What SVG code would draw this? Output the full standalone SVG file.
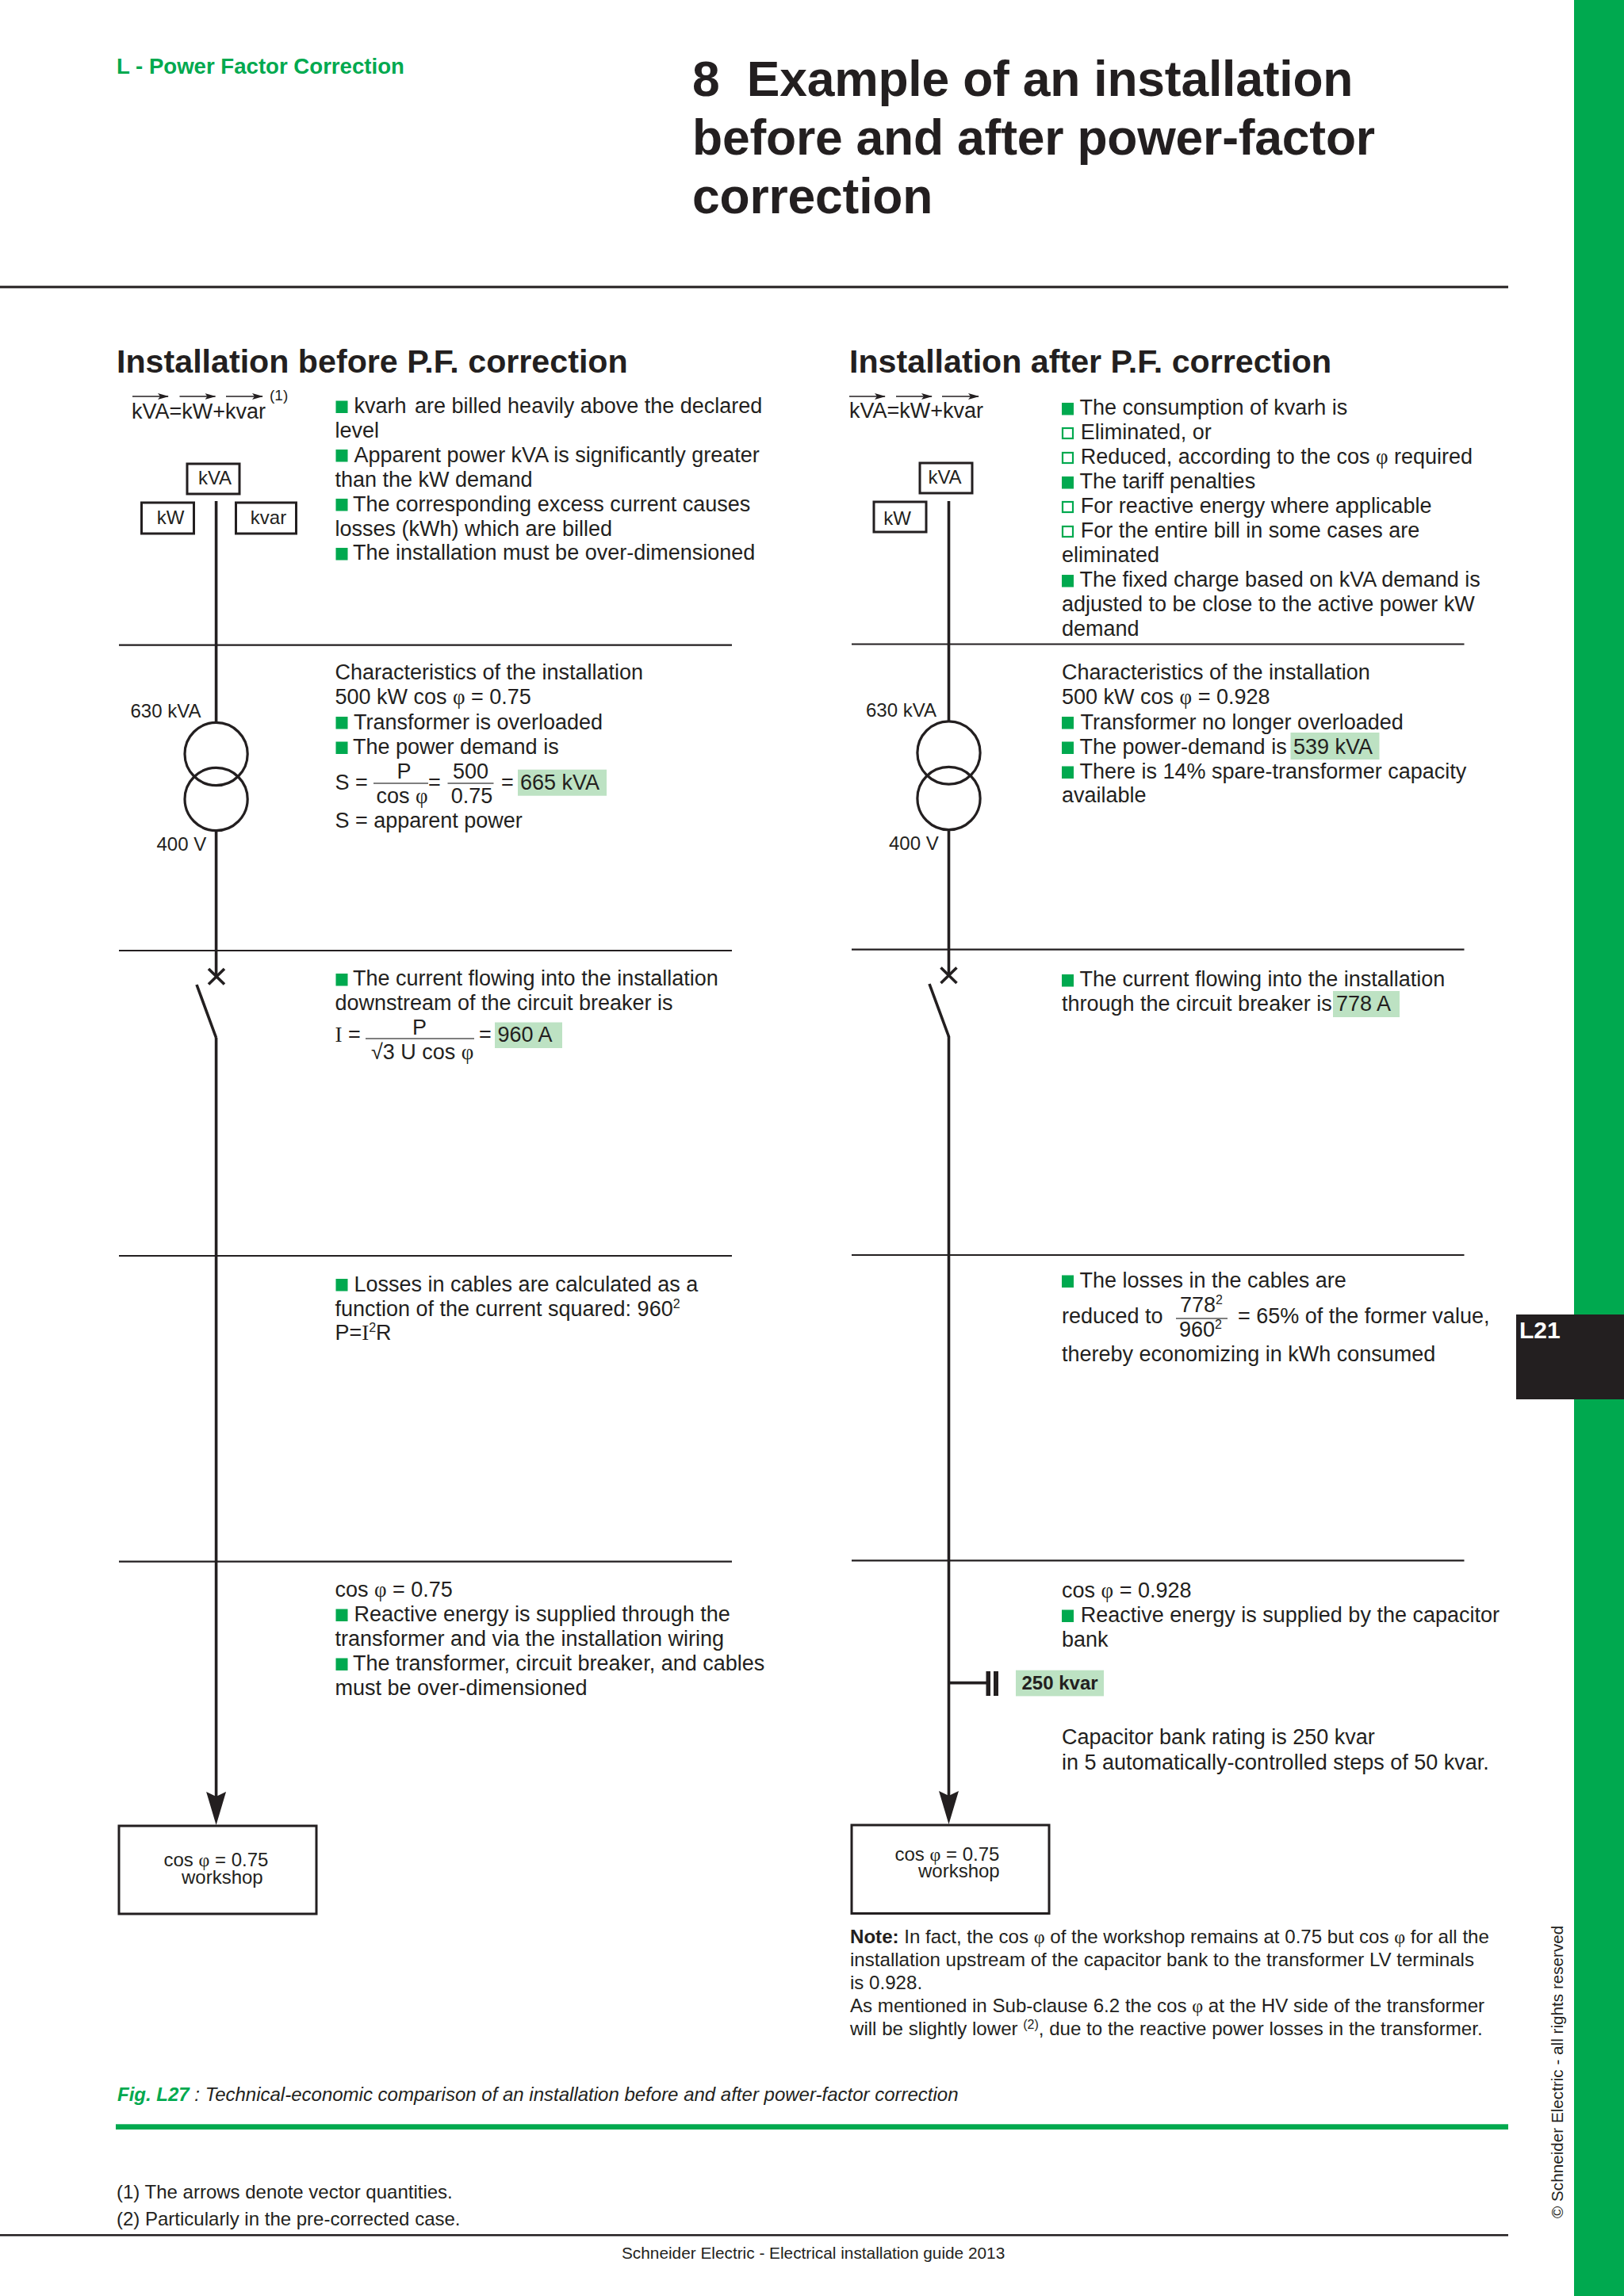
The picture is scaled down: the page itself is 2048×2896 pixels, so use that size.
<svg xmlns="http://www.w3.org/2000/svg" width="2048" height="2896" viewBox="0 0 2048 2896">
<style>
text{font-family:"Liberation Sans",Arial,sans-serif;fill:#231f20}
.t{font-size:27px}
.s{font-size:24px}
.n{font-size:24px}
.nt{font-size:24.1px}
.f{font-size:20.8px}
.h{font-size:41.2px;font-weight:bold}
.ti{font-size:62.4px;font-weight:bold;letter-spacing:-0.2px}
.p{font-family:"Liberation Serif",serif}
.mid{text-anchor:middle}
.sup{font-size:16px}
.hl{fill:#bde2c3}
.b{fill:#00a94f}
.o{fill:#fff;stroke:#00a94f;stroke-width:2.2}
.rule{stroke:#231f20;stroke-width:2.2;fill:none}
.wire{stroke:#231f20;stroke-width:3.6;fill:none}
.box{stroke:#231f20;stroke-width:3;fill:#fff}
.frac{stroke:#555;stroke-width:1.4}
.vec{stroke:#231f20;stroke-width:1.4;marker-end:url(#va)}
</style>
<defs>
<marker id="ah" markerUnits="userSpaceOnUse" viewBox="0 0 42 25" markerWidth="42" markerHeight="25" refX="10" refY="12.5" orient="auto"><path d="M0,0 L42,12.5 L0,25 L6,12.5 Z" fill="#231f20"/></marker>
<marker id="va" markerUnits="userSpaceOnUse" viewBox="0 0 14 8" markerWidth="14" markerHeight="8" refX="13" refY="4" orient="auto"><path d="M0,0 L14,4 L0,8 L3,4 Z" fill="#231f20"/></marker>
</defs>
<rect width="2048" height="2896" fill="#fff"/>

<g id="page">
<rect x="1985" y="0" width="63" height="2896" fill="#00a94f"/>
<rect x="1912" y="1658" width="136" height="107" fill="#231f20"/>
<text x="1916" y="1688" font-size="30" font-weight="bold" style="fill:#fff">L21</text>
<text transform="translate(1970.5 2798) rotate(-90)" font-size="20.7">© Schneider Electric - all rights reserved</text>
<text x="147" y="93.3" font-size="27.6" font-weight="bold" style="fill:#00a94f">L - Power Factor Correction</text>
<text x="873" y="120.7" class="ti">8&#160; Example of an installation</text>
<text x="873" y="194.7" class="ti">before and after power-factor</text>
<text x="873" y="268.7" class="ti">correction</text>
<line x1="0" y1="362" x2="1902" y2="362" stroke="#231f20" stroke-width="3"/>
<text x="147" y="470" class="h">Installation before P.F. correction</text>
<text x="1071" y="470" class="h">Installation after P.F. correction</text>
</g>

<g id="rules">
<path class="rule" d="M150,813.7H923M150,1199H923M150,1584H923M150,1969.7H923"/>
<path class="rule" d="M1074,812.5H1846.5M1074,1197.6H1846.5M1074,1583H1846.5M1074,1968.4H1846.5"/>
</g>

<g id="connectors">
<line class="wire" x1="272.6" y1="632" x2="272.6" y2="911"/>
<line class="wire" x1="272.6" y1="1047" x2="272.6" y2="1232"/>
<line class="wire" x1="272.6" y1="1309" x2="272.6" y2="2270" marker-end="url(#ah)"/>
<line class="wire" x1="1196.5" y1="632" x2="1196.5" y2="910"/>
<line class="wire" x1="1196.5" y1="1046" x2="1196.5" y2="1230"/>
<line class="wire" x1="1196.5" y1="1307" x2="1196.5" y2="2269" marker-end="url(#ah)"/>
<line class="wire" x1="1196.5" y1="2122.6" x2="1244" y2="2122.6"/>
</g>

<g id="vector-left">
<line class="vec" x1="167" y1="500" x2="212" y2="500"/>
<line class="vec" x1="226.5" y1="500" x2="271.5" y2="500"/>
<line class="vec" x1="285" y1="500" x2="331" y2="500"/>
<text x="166" y="528" class="t">kVA=kW+kvar</text>
<text x="340" y="504.5" font-size="19">(1)</text>
</g>
<g id="vector-right">
<line class="vec" x1="1071" y1="500" x2="1116" y2="500"/>
<line class="vec" x1="1130" y1="500" x2="1175" y2="500"/>
<line class="vec" x1="1188" y1="500" x2="1234" y2="500"/>
<text x="1071" y="526.7" class="t">kVA=kW+kvar</text>
</g>

<g id="node-kva-left"><rect class="box" x="236" y="585" width="66" height="38"/><text x="271" y="611" class="s mid">kVA</text></g>
<g id="node-kw-left"><rect class="box" x="178.500" y="634" width="66" height="39"/><text x="215" y="661" class="s mid">kW</text></g>
<g id="node-kvar-left"><rect class="box" x="297.500" y="634" width="76" height="39"/><text x="338.500" y="661" class="s mid">kvar</text></g>
<g id="node-kva-right"><rect class="box" x="1160" y="584" width="66" height="38"/><text x="1191.500" y="609.500" class="s mid">kVA</text></g>
<g id="node-kw-right"><rect class="box" x="1102" y="633" width="66" height="38"/><text x="1131.700" y="662" class="s mid">kW</text></g>

<g id="transformer-left">
<circle cx="272.6" cy="951" r="39.6" fill="none" stroke="#231f20" stroke-width="3.2"/>
<circle cx="272.6" cy="1008" r="39.6" fill="none" stroke="#231f20" stroke-width="3.2"/>
<text x="164.500" y="905" class="s">630 kVA</text>
<text x="197.500" y="1073" class="s">400 V</text>
</g>
<g id="transformer-right">
<circle cx="1196.5" cy="949.5" r="39.6" fill="none" stroke="#231f20" stroke-width="3.2"/>
<circle cx="1196.5" cy="1007" r="39.6" fill="none" stroke="#231f20" stroke-width="3.2"/>
<text x="1092" y="903.500" class="s">630 kVA</text>
<text x="1121" y="1072" class="s">400 V</text>
</g>

<g id="breaker-left" class="wire">
<path d="M263,1222L283,1241.500M283,1222L263,1241.500M248,1242L272.6,1309"/>
</g>
<g id="breaker-right" class="wire">
<path d="M1186.500,1220.500L1206.500,1240M1206.500,1220.500L1186.500,1240M1172,1241L1196.500,1307.500"/>
</g>

<g id="capacitor">
<rect x="1243.500" y="2108" width="5.500" height="31" fill="#231f20"/>
<rect x="1253" y="2108" width="6" height="31" fill="#231f20"/>
<rect class="hl" x="1281" y="2106.700" width="111" height="32.700"/>
<text x="1288.500" y="2130.800" font-size="24" font-weight="bold">250 kvar</text>
</g>

<g id="load-left">
<rect class="box" x="150" y="2303" width="249" height="111"/>
<text x="206.500" y="2354" class="n">cos <tspan class="p">φ</tspan> = 0.75</text>
<text x="229" y="2375.500" class="n">workshop</text>
</g>
<g id="load-right">
<rect class="box" x="1074" y="2302" width="249" height="111.500"/>
<text x="1128.500" y="2346.500" class="n">cos <tspan class="p">φ</tspan> = 0.75</text>
<text x="1158" y="2368" class="n">workshop</text>
</g>

<g id="text-left-1">
<rect class="b" x="423.500" y="505.500" width="15" height="15.500"/><text x="446.500" y="520.600" class="t">kvarh <tspan dx="3">are billed heavily above the declared</tspan></text>
<text x="422.400" y="551.600" class="t">level</text>
<rect class="b" x="423.500" y="567" width="15" height="15.500"/><text x="446.500" y="582.600" class="t">Apparent power kVA is significantly greater</text>
<text x="422.400" y="613.600" class="t">than the kW demand</text>
<rect class="b" x="423.500" y="629" width="15" height="15.500"/><text x="445" y="644.600" class="t">The corresponding excess current causes</text>
<text x="422.400" y="675.600" class="t">losses (kWh) which are billed</text>
<rect class="b" x="423.500" y="691" width="15" height="15.500"/><text x="445" y="706.400" class="t">The installation must be over-dimensioned</text>
</g>
<g id="text-left-2">
<text x="422.400" y="857" class="t">Characteristics of the installation</text>
<text x="422.400" y="888" class="t">500 kW cos <tspan class="p">φ</tspan> = 0.75</text>
<rect class="b" x="423.500" y="904" width="15" height="15.500"/><text x="446" y="919.500" class="t">Transformer is overloaded</text>
<rect class="b" x="423.500" y="935.500" width="15" height="15.500"/><text x="445" y="951" class="t">The power demand is</text>
<text x="422.400" y="996" class="t">S =</text>
<text x="509.600" y="982" class="t mid">P</text>
<line class="frac" x1="471" y1="988" x2="540" y2="988"/>
<text x="474.500" y="1013" class="t">cos <tspan class="p">φ</tspan></text>
<text x="540" y="996" class="t">=</text>
<text x="593.500" y="982" class="t mid">500</text>
<line class="frac" x1="564.500" y1="988" x2="622.500" y2="988"/>
<text x="595" y="1013" class="t mid">0.75</text>
<text x="632" y="996" class="t">=</text>
<rect class="hl" x="653" y="970.700" width="112" height="33"/>
<text x="656" y="996" class="t">665 kVA</text>
<text x="422.400" y="1043.600" class="t">S = apparent power</text>
</g>
<g id="text-left-3">
<rect class="b" x="423.500" y="1228" width="15" height="15.500"/><text x="445" y="1243" class="t">The current flowing into the installation</text>
<text x="422.400" y="1274" class="t">downstream of the circuit breaker is</text>
<text x="422.400" y="1313.600" class="t"><tspan class="p">I</tspan> =</text>
<text x="529" y="1304.700" class="t mid">P</text>
<line class="frac" x1="461" y1="1310" x2="598" y2="1310"/>
<text x="468" y="1336" class="t">√3 U cos <tspan class="p">φ</tspan></text>
<text x="604" y="1313.600" class="t">=</text>
<rect class="hl" x="624" y="1289.500" width="85" height="32.500"/>
<text x="627.500" y="1313.600" class="t">960 A</text>
</g>
<g id="text-left-4">
<rect class="b" x="423.500" y="1613" width="15" height="15.500"/><text x="446.500" y="1628.700" class="t">Losses in cables are calculated as a</text>
<text x="422.400" y="1660" class="t">function of the current squared: 960<tspan class="sup" dy="-10">2</tspan></text>
<text x="422.400" y="1690" class="t">P=<tspan class="p">I</tspan><tspan class="sup" dy="-10">2</tspan><tspan dy="10">R</tspan></text>
</g>
<g id="text-left-5">
<text x="422.400" y="2014" class="t">cos <tspan class="p">φ</tspan> = 0.75</text>
<rect class="b" x="423.500" y="2029.500" width="15" height="15.500"/><text x="446.500" y="2045" class="t">Reactive energy is supplied through the</text>
<text x="422.400" y="2076" class="t">transformer and via the installation wiring</text>
<rect class="b" x="423.500" y="2091.500" width="15" height="15.500"/><text x="445" y="2106.700" class="t">The transformer, circuit breaker, and cables</text>
<text x="422.400" y="2138" class="t">must be over-dimensioned</text>
</g>

<g id="text-right-1">
<rect class="b" x="1339" y="508" width="15" height="15.500"/><text x="1361.500" y="522.800" class="t">The consumption of kvarh is</text>
<rect class="o" x="1340" y="540" width="13" height="13"/><text x="1362.700" y="554" class="t">Eliminated, or</text>
<rect class="o" x="1340" y="571" width="13" height="13"/><text x="1362.700" y="585" class="t">Reduced, according to the cos <tspan class="p">φ</tspan> required</text>
<rect class="b" x="1339" y="601" width="15" height="15.500"/><text x="1361.500" y="616" class="t">The tariff penalties</text>
<rect class="o" x="1340" y="633" width="13" height="13"/><text x="1362.700" y="647" class="t">For reactive energy where applicable</text>
<rect class="o" x="1340" y="664" width="13" height="13"/><text x="1362.700" y="678" class="t">For the entire bill in some cases are</text>
<text x="1339" y="709" class="t">eliminated</text>
<rect class="b" x="1339" y="725" width="15" height="15.500"/><text x="1361.500" y="740" class="t">The fixed charge based on kVA demand is</text>
<text x="1339" y="771" class="t">adjusted to be close to the active power kW</text>
<text x="1339" y="802" class="t">demand</text>
</g>
<g id="text-right-2">
<text x="1339" y="857" class="t">Characteristics of the installation</text>
<text x="1339" y="888" class="t">500 kW cos <tspan class="p">φ</tspan> = 0.928</text>
<rect class="b" x="1339" y="904" width="15" height="15.500"/><text x="1362.500" y="919.500" class="t">Transformer no longer overloaded</text>
<rect class="b" x="1339" y="935.500" width="15" height="15.500"/><text x="1361.500" y="951" class="t">The power-demand is</text>
<rect class="hl" x="1627.500" y="924" width="112" height="34"/>
<text x="1631" y="951" class="t">539 kVA</text>
<rect class="b" x="1339" y="966.500" width="15" height="15.500"/><text x="1361.500" y="982" class="t">There is 14% spare-transformer capacity</text>
<text x="1339" y="1012" class="t">available</text>
</g>
<g id="text-right-3">
<rect class="b" x="1339" y="1229" width="15" height="15.500"/><text x="1361.500" y="1244.400" class="t">The current flowing into the installation</text>
<text x="1339" y="1275" class="t">through the circuit breaker is</text>
<rect class="hl" x="1681" y="1250" width="84" height="33"/>
<text x="1685" y="1275" class="t">778 A</text>
</g>
<g id="text-right-4">
<rect class="b" x="1339" y="1608.500" width="15" height="15.500"/><text x="1361.500" y="1624" class="t">The losses in the cables are</text>
<text x="1339" y="1669" class="t">reduced to</text>
<text x="1488" y="1655" class="t">778<tspan class="sup" dy="-10">2</tspan></text>
<line class="frac" x1="1483" y1="1663" x2="1548" y2="1663"/>
<text x="1487" y="1686" class="t">960<tspan class="sup" dy="-10">2</tspan></text>
<text x="1561" y="1669" class="t">= 65% of the former value,</text>
<text x="1339" y="1717" class="t">thereby economizing in kWh consumed</text>
</g>
<g id="text-right-5">
<text x="1339" y="2014.500" class="t">cos <tspan class="p">φ</tspan> = 0.928</text>
<rect class="b" x="1339" y="2030.500" width="15" height="15.500"/><text x="1362.700" y="2046" class="t">Reactive energy is supplied by the capacitor</text>
<text x="1339" y="2076.500" class="t">bank</text>
<text x="1339" y="2200" class="t">Capacitor bank rating is 250 kvar</text>
<text x="1339" y="2231.600" class="t">in 5 automatically-controlled steps of 50 kvar.</text>
</g>
<g id="note">
<text x="1072" y="2451" class="nt"><tspan font-weight="bold">Note:</tspan> In fact, the cos <tspan class="p">φ</tspan> of the workshop remains at 0.75 but cos <tspan class="p">φ</tspan> for all the</text>
<text x="1072" y="2480" class="nt">installation upstream of the capacitor bank to the transformer LV terminals</text>
<text x="1072" y="2509" class="nt">is 0.928.</text>
<text x="1072" y="2538" class="nt">As mentioned in Sub-clause 6.2 the cos <tspan class="p">φ</tspan> at the HV side of the transformer</text>
<text x="1072" y="2566.700" class="nt">will be slightly lower <tspan class="sup" dy="-8">(2)</tspan><tspan dy="8">, due to the reactive power losses in the transformer.</tspan></text>
</g>
<g id="caption">
<text x="148" y="2650" class="n" font-style="italic"><tspan font-weight="bold" style="fill:#00a94f">Fig. L27</tspan> : Technical-economic comparison of an installation before and after power-factor correction</text>
<rect x="146" y="2679.300" width="1756" height="6.700" fill="#00a94f"/>
<text x="147" y="2773.300" class="n">(1) The arrows denote vector quantities.</text>
<text x="147" y="2807" class="n">(2) Particularly in the pre-corrected case.</text>
<line x1="0" y1="2819.300" x2="1902" y2="2819.300" stroke="#231f20" stroke-width="2.6"/>
<text x="784" y="2848.700" class="f">Schneider Electric - Electrical installation guide 2013</text>
</g>
</svg>
